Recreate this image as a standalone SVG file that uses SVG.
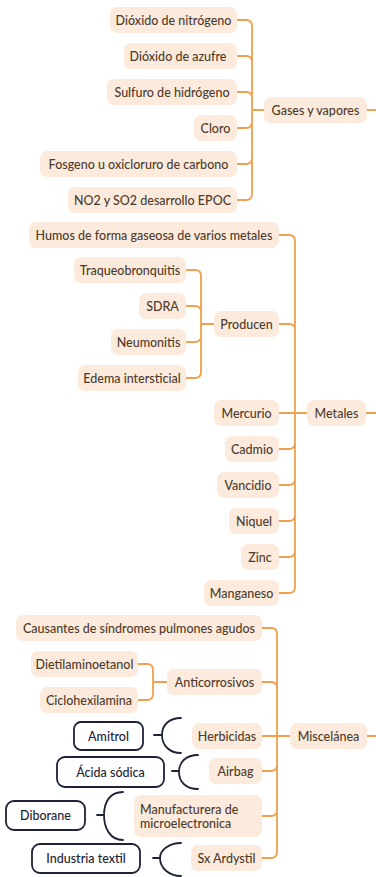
<svg xmlns="http://www.w3.org/2000/svg" width="376" height="877" viewBox="0 0 376 877">
<style>
.b{fill:#fcebdc;}
.t{font-family:Lato,"Noto Sans",sans-serif;font-size:12.5px;font-weight:500;fill:#4f3b2c;text-anchor:middle;dominant-baseline:central;}
.d{fill:#ffffff;stroke:#1e2236;stroke-width:1.8;}
.dt{font-family:Lato,"Noto Sans",sans-serif;font-size:12.5px;font-weight:500;fill:#1e2236;text-anchor:middle;dominant-baseline:central;}
.c{fill:none;stroke:#f0a04e;stroke-width:1.8;stroke-linecap:round;}
.br{fill:none;stroke:#1e2236;stroke-width:1.8;stroke-linecap:round;}
</style>
<rect width="376" height="877" fill="#ffffff"/>
<g id="connectors">
<path class="c" d="M237,20 H246 Q252,20 252,26 M237,56 H246 Q252,56 252,62 M237,92 H246 Q252,92 252,98 M237,128 H246 Q252,128 252,122 M237,164 H246 Q252,164 252,158 M237,200 H246 Q252,200 252,194 M252,26 V194 M252,110 H264 M367,110 H376"/>
<path class="c" d="M279,235 H289 Q295,235 295,241 M279,324 H289 Q295,324 295,330 M279,413 H307 M279,449 H289 Q295,449 295,443 M279,485 H289 Q295,485 295,479 M279,521 H289 Q295,521 295,515 M279,557 H289 Q295,557 295,551 M279,593 H289 Q295,593 295,587 M295,241 V587 M366,413 H376"/>
<path class="c" d="M186,270 H195 Q201,270 201,276 M186,306 H195 Q201,306 201,312 M186,342 H195 Q201,342 201,336 M186,378 H195 Q201,378 201,372 M201,276 V372 M201,324 H214"/>
<path class="c" d="M138,664 H147 Q153,664 153,670 M138,700 H147 Q153,700 153,694 M153,670 V694 M153,682 H167"/>
<path class="c" d="M262,628 H271 Q277,628 277,634 M262,682 H271 Q277,682 277,688 M262,736 H290 M262,771 H271 Q277,771 277,765 M262,816 H271 Q277,816 277,810 M262,858 H271 Q277,858 277,852 M277,634 V852 M367,736 H376"/>
<path class="br" d="M154,735 H162 M181,718 C169,718 162,725 162,735 C162,745 169,753 181,753"/>
<path class="br" d="M172,771 H179 M198,755 C186,755 179,762 179,772 C179,782 186,789 198,789"/>
<path class="br" d="M97,815 H104 M123,792 C110,792 104,802 104,815 C104,828 110,840 123,840"/>
<path class="br" d="M153,858 H160 M181,843 C169,843 160,850 160,858 C160,868 169,876 181,876"/>
</g>
<g id="n-dioxido-nitrogeno"><rect class="b" x="110" y="7" width="127" height="26" rx="7"/><text class="t" x="173.5" y="20">Dióxido de nitrógeno</text></g>
<g id="n-dioxido-azufre"><rect class="b" x="124" y="43" width="113" height="26" rx="7"/><text class="t" x="178" y="56">Dióxido de azufre</text></g>
<g id="n-sulfuro"><rect class="b" x="107" y="79" width="130" height="26" rx="7"/><text class="t" x="172" y="92">Sulfuro de hidrógeno</text></g>
<g id="n-cloro"><rect class="b" x="194" y="115" width="43" height="26" rx="7"/><text class="t" x="215.5" y="128">Cloro</text></g>
<g id="n-fosgeno"><rect class="b" x="40" y="151" width="197" height="26" rx="7"/><text class="t" x="138.5" y="164">Fosgeno u oxicloruro de carbono</text></g>
<g id="n-no2"><rect class="b" x="68" y="187" width="169" height="26" rx="7"/><text class="t" x="152.5" y="200">NO2 y SO2 desarrollo EPOC</text></g>
<g id="n-gases"><rect class="b" x="264" y="97" width="103" height="26" rx="7"/><text class="t" x="315.5" y="110">Gases y vapores</text></g>
<g id="n-humos"><rect class="b" x="29" y="222" width="250" height="26" rx="7"/><text class="t" x="154" y="235">Humos de forma gaseosa de varios metales</text></g>
<g id="n-traqueo"><rect class="b" x="74" y="257" width="112" height="26" rx="7"/><text class="t" x="130" y="270">Traqueobronquitis</text></g>
<g id="n-sdra"><rect class="b" x="139" y="293" width="47" height="26" rx="7"/><text class="t" x="162.5" y="306">SDRA</text></g>
<g id="n-neumonitis"><rect class="b" x="111" y="329" width="75" height="26" rx="7"/><text class="t" x="148.5" y="342">Neumonitis</text></g>
<g id="n-edema"><rect class="b" x="78" y="365" width="108" height="26" rx="7"/><text class="t" x="132" y="378">Edema intersticial</text></g>
<g id="n-producen"><rect class="b" x="214" y="311" width="65" height="26" rx="7"/><text class="t" x="246.5" y="324">Producen</text></g>
<g id="n-mercurio"><rect class="b" x="214" y="400" width="65" height="26" rx="7"/><text class="t" x="246.5" y="413">Mercurio</text></g>
<g id="n-metales"><rect class="b" x="307" y="400" width="59" height="26" rx="7"/><text class="t" x="336.5" y="413">Metales</text></g>
<g id="n-cadmio"><rect class="b" x="225" y="436" width="54" height="26" rx="7"/><text class="t" x="252" y="449">Cadmio</text></g>
<g id="n-vancidio"><rect class="b" x="217" y="472" width="62" height="26" rx="7"/><text class="t" x="248" y="485">Vancidio</text></g>
<g id="n-niquel"><rect class="b" x="229" y="508" width="50" height="26" rx="7"/><text class="t" x="254" y="521">Niquel</text></g>
<g id="n-zinc"><rect class="b" x="241" y="544" width="38" height="26" rx="7"/><text class="t" x="260" y="557">Zinc</text></g>
<g id="n-manganeso"><rect class="b" x="204" y="580" width="75" height="26" rx="7"/><text class="t" x="241.5" y="593">Manganeso</text></g>
<g id="n-causantes"><rect class="b" x="16" y="615" width="246" height="26" rx="7"/><text class="t" x="139" y="628">Causantes de síndromes pulmones agudos</text></g>
<g id="n-dietil"><rect class="b" x="31" y="651" width="107" height="26" rx="7"/><text class="t" x="84.5" y="664">Dietilaminoetanol</text></g>
<g id="n-ciclo"><rect class="b" x="40" y="687" width="98" height="26" rx="7"/><text class="t" x="89" y="700">Ciclohexilamina</text></g>
<g id="n-anticorrosivos"><rect class="b" x="167" y="669" width="95" height="26" rx="7"/><text class="t" x="214.5" y="682">Anticorrosivos</text></g>
<g id="n-herbicidas"><rect class="b" x="192" y="723" width="70" height="26" rx="7"/><text class="t" x="227" y="736">Herbicidas</text></g>
<g id="n-miscelanea"><rect class="b" x="290" y="723" width="77" height="26" rx="7"/><text class="t" x="328.5" y="736">Miscelánea</text></g>
<g id="n-airbag"><rect class="b" x="209" y="758" width="53" height="26" rx="7"/><text class="t" x="235.5" y="771">Airbag</text></g>
<g id="n-manufacturera"><rect class="b" x="134" y="795" width="128" height="42" rx="7"/><text class="t" x="140" y="809" style="text-anchor:start">Manufacturera de</text><text class="t" x="140" y="823" style="text-anchor:start">microelectronica</text></g>
<g id="n-sx"><rect class="b" x="191" y="845" width="71" height="26" rx="7"/><text class="t" x="226.5" y="858">Sx Ardystil</text></g>
<g id="n-amitrol"><rect class="d" x="74" y="722" width="69" height="28" rx="7"/><text class="dt" x="108.5" y="736">Amitrol</text></g>
<g id="n-acida"><rect class="d" x="57" y="757" width="107" height="30" rx="8"/><text class="dt" x="110.5" y="772">Ácida sódica</text></g>
<g id="n-diborane"><rect class="d" x="6" y="801" width="79" height="29" rx="8"/><text class="dt" x="45.5" y="815.5">Diborane</text></g>
<g id="n-industria"><rect class="d" x="32" y="844" width="108" height="29" rx="8"/><text class="dt" x="86" y="858.5">Industria textil</text></g>
</svg>
